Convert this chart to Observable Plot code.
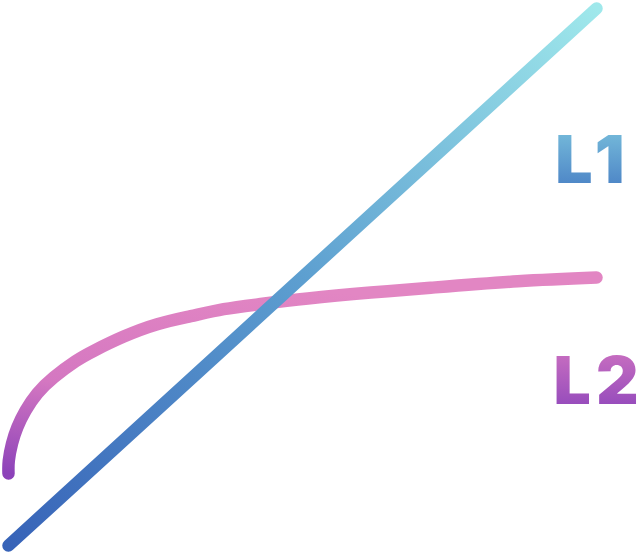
<!DOCTYPE html>
<html>
<head>
<meta charset="utf-8">
<script src="https://cdn.jsdelivr.net/npm/d3@7"></script>
<script src="https://cdn.jsdelivr.net/npm/@observablehq/plot@0.6"></script>
<style>
  body { margin: 0; background: #fff; }
  #chart svg { display: block; }
  #chart text { letter-spacing: 5px; }
</style>
</head>
<body>
<div id="chart"></div>
<script>
// L1: straight line
const l1X = [0, 10]
const l1Y = [0, 10]

// L2: fast rise then flattening
const l2X = [0, 0.005, 0.06, 0.15, 0.29, 0.49, 0.77, 1.14, 1.46, 1.96, 2.53, 3.1, 3.66, 4.24, 5.09, 6.16, 7.18, 8.66, 10]
const l2Y = [1.34, 1.58, 1.9, 2.2, 2.51, 2.83, 3.13, 3.43, 3.63, 3.89, 4.12, 4.27, 4.4, 4.49, 4.6, 4.71, 4.8, 4.92, 4.99]

// labels
const labels = ["L1", "L2"]
const labelX = [9.3, 9.27]
const labelY = [7.14, 3.02]
const labelFill = ["url(#g-l1-text)", "url(#g-l2-text)"]

const l1 = l1X.map((x, i) => ({x, y: l1Y[i]}))
const l2 = l2X.map((x, i) => ({x, y: l2Y[i]}))
const lab = labels.map((t, i) => ({t, x: labelX[i], y: labelY[i], f: labelFill[i]}))

// gradient defs, added as a function mark
function gradients() {
   const defs = d3.create("svg:defs")
   const add = (id, x1, y1, x2, y2, stops) => {
      const g = defs.append("linearGradient").attr("id", id)
         .attr("x1", x1).attr("y1", y1).attr("x2", x2).attr("y2", y2)
      stops.forEach(([o, c]) => g.append("stop").attr("offset", o).attr("stop-color", c))
   }
   add("g-l1", 0, 1, 1, 0, [[0, "#3763b8"], [0.5, "#5d9fd0"], [1, "#9fe8eb"]])
   add("g-l2", 0, 1, 0.3, 0, [[0, "#8c42b9"], [0.45, "#d477c1"], [1, "#e286c3"]])
   add("g-l1-text", 0, 0, 0, 1, [[0, "#7dc5de"], [1, "#4479c2"]])
   add("g-l2-text", 0, 0, 0, 1, [[0, "#d275c1"], [1, "#8943bb"]])
   return defs.node()
}

const chart = Plot.plot({
   "width": 644,
   "height": 556,
   "margin": 0,
   "x": {"axis": null, "domain": [0, 10], "range": [8, 596]},
   "y": {"axis": null, "domain": [0, 10], "range": [545, 8]},
   "marks": [
      gradients,
      Plot.line(l2, {
         "x": "x",
         "y": "y",
         "curve": "natural",
         "stroke": "url(#g-l2)",
         "strokeWidth": 12.5,
         "strokeLinecap": "round"
      }),
      Plot.line(l1, {
         "x": "x",
         "y": "y",
         "stroke": "url(#g-l1)",
         "strokeWidth": 12.5,
         "strokeLinecap": "round"
      }),
      Plot.text(lab, {
         "x": "x",
         "y": "y",
         "text": "t",
         "fill": "f",
         "textAnchor": "start",
         "lineAnchor": "middle",
         "fontSize": 66,
         "fontWeight": 900,
         "fontFamily": "Inter"
      })
   ]
})

document.querySelector("#chart").append(chart)
</script>
</body>
</html>
